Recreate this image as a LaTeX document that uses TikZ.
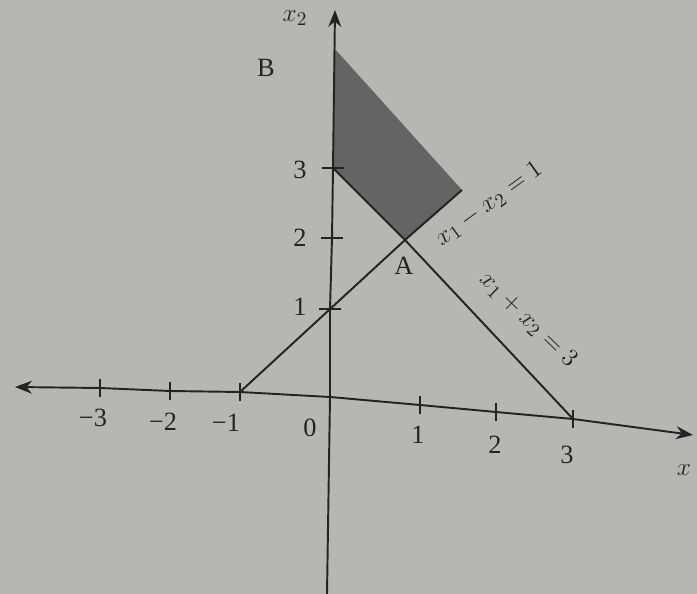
\documentclass[tikz,border=0pt]{standalone}
\usepackage{fontspec}
\setmainfont{Liberation Serif}
\usetikzlibrary{arrows.meta}
\definecolor{paper}{RGB}{182,182,178}
\definecolor{ink}{RGB}{35,35,35}
\definecolor{shadefill}{RGB}{100,100,100}
\begin{document}
\begin{tikzpicture}[x=0.02cm,y=-0.02cm,
  axis/.style={draw=ink,line width=1.1pt},
  graphline/.style={draw=ink,line width=1.1pt},
  tickmark/.style={draw=ink,line width=1pt},
  lbl/.style={text=ink,font=\fontsize{15}{18}\selectfont,inner sep=0pt},
  tipstyle/.style={Stealth[length=0.34cm,width=0.26cm]}]
\fill[paper] (0,0) rectangle (697,594);
\useasboundingbox (0,0) rectangle (697,594);
% x-axis points
\coordinate (xl) at (15,387);
\coordinate (xm3) at (100,388);
\coordinate (xm2) at (170,391);
\coordinate (xm1) at (240,392);
\coordinate (O) at (330,397);
\coordinate (xp1) at (420,405);
\coordinate (xp2) at (496,412);
\coordinate (xp3) at (573,419);
\coordinate (xr) at (693,435);
% y-axis points
\coordinate (yb) at (327,594);
\coordinate (yp1) at (330,309);
\coordinate (yp2) at (332,238);
\coordinate (yp3) at (333,168);
\coordinate (ytop) at (334,48);
\coordinate (yt) at (335,10);
% region corners
\coordinate (A) at (405,240);
\coordinate (C) at (462,190);
% shaded feasible region
\fill[shadefill] (ytop) -- (yp3) -- (A) -- (C) -- cycle;
% axes
\draw[axis,{Stealth[length=0.34cm,width=0.26cm]}-{Stealth[length=0.34cm,width=0.26cm]}]
  (xl) -- (xm3) -- (xm2) -- (xm1) -- (O) -- (xp1) -- (xp2) -- (xp3) -- (xr);
\draw[axis,-{Stealth[length=0.34cm,width=0.26cm]}]
  (yb) -- (O) -- (yp1) -- (yp2) -- (yp3) -- (yt);
% ticks
\foreach \p in {xm3,xm2,xm1,xp1,xp2,xp3}
  \draw[tickmark] (\p) ++(0,-9) -- ++(0,18);
\foreach \p in {yp1,yp2,yp3}
  \draw[tickmark] (\p) ++(-11,0) -- ++(22,0);
% constraint lines
\draw[graphline] (xm1) -- (A) -- (C);
\draw[graphline] (yp3) -- (A) -- (xp3);
% labels
\node[lbl] (lm3) at (93,418) {−3};
\node[lbl] (lm2) at (163,422) {−2};
\node[lbl] (lm1) at (226,423) {−1};
\node[lbl] (l0) at (310,428) {0};
\node[lbl] (lp1) at (418,435) {1};
\node[lbl] (lp2) at (495,445) {2};
\node[lbl] (lp3) at (567,455) {3};
\node[lbl] (lx) at (684,470) {$x$};
\node[lbl] (ly1) at (300,307) {1};
\node[lbl] (ly2) at (300,238) {2};
\node[lbl] (ly3) at (300,170) {3};
\node[lbl] (lx2) at (295,18) {$x_2$};
\node[lbl] (lB) at (266,68) {B};
\node[lbl] (lA) at (404,266) {A};
\node[lbl,rotate=36] (leq1) at (489,204) {$x_1 - x_2 = 1$};
\node[lbl,rotate=-44] (leq2) at (528,320) {$x_1 + x_2 = 3$};
\end{tikzpicture}
\end{document}
